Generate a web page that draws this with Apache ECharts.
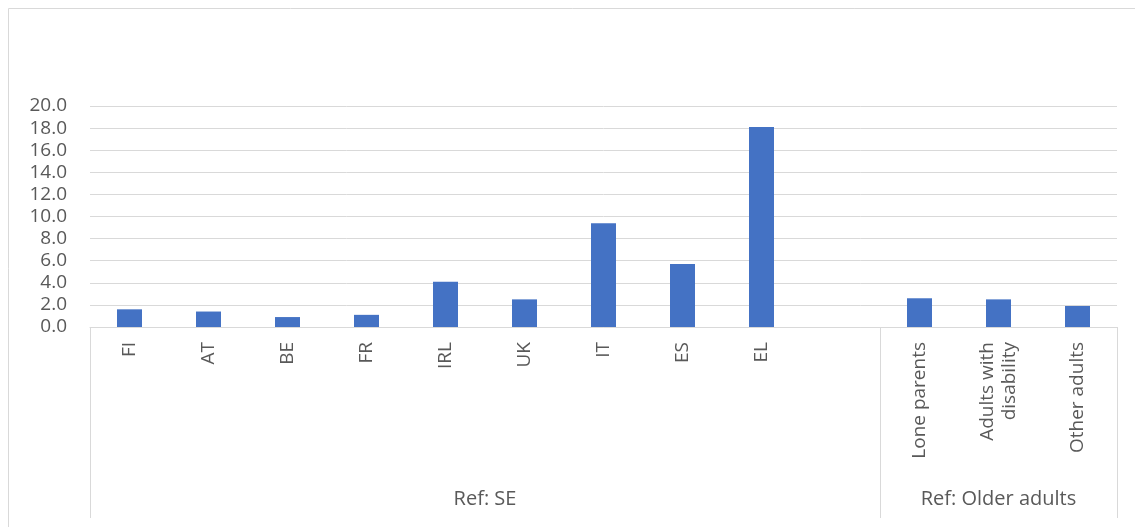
<!DOCTYPE html>
<html>
<head>
<meta charset="utf-8">
<script src="https://cdn.jsdelivr.net/npm/echarts@6/dist/echarts.min.js"></script>
<style>
  html, body {margin:0; padding:0; background:#fff;}
  #main {width:1135px; height:527px;}
</style>
</head>
<body>
<div id="main"></div>
<script>
var categories = ['FI','AT','BE','FR','IRL','UK','IT','ES','EL','','Lone parents','Adults with\ndisability','Other adults'];
var values = [1.6, 1.4, 0.9, 1.1, 4.1, 2.5, 9.4, 5.7, 18.1, null, 2.6, 2.5, 1.9];
var yTicks = [0, 2, 4, 6, 8, 10, 12, 14, 16, 18, 20];
var groups = ['Ref: SE', 'Ref: Older adults'];
var groupSpans = [10, 3];

// group edges and centres, counted in categories
var edges = [0], centres = [];
for (var i = 0; i < groupSpans.length; i++) {
    var start = edges[edges.length - 1];
    edges.push(start + groupSpans[i]);
    centres.push(start + groupSpans[i] / 2);
}

var grey = '#d9d9d9';
var textColor = '#595959';
var font = '"Open Sans", "Liberation Sans", sans-serif';

var myChart = echarts.init(document.getElementById('main'));
myChart.setOption({
    animation: false,
    graphic: [{
        type: 'rect',
        shape: {x: 8.5, y: 8.5, width: 1140, height: 540},
        style: {fill: 'none', stroke: grey, lineWidth: 1},
        silent: true
    }],
    grid: {left: 90, right: 18, top: 106, bottom: 200},
    xAxis: [{
        type: 'category',
        data: categories,
        axisLine: {lineStyle: {color: grey, width: 1}},
        axisTick: {show: false},
        axisLabel: {
            rotate: 90,
            interval: 0,
            margin: 15,
            color: textColor,
            fontFamily: font,
            fontSize: 19,
            lineHeight: 22
        }
    }, {
        type: 'value',
        min: 0,
        max: categories.length,
        position: 'bottom',
        axisLine: {show: false},
        splitLine: {show: false},
        axisTick: {
            show: true,
            customValues: edges,
            length: 191,
            lineStyle: {color: grey, width: 1}
        },
        axisLabel: {
            customValues: centres,
            margin: 162,
            color: textColor,
            fontFamily: font,
            fontSize: 20,
            formatter: function (v) {
                for (var i = 0; i < centres.length; i++) {
                    if (centres[i] == v) return groups[i];
                }
                return '';
            }
        }
    }],
    yAxis: {
        type: 'value',
        min: yTicks[0],
        max: yTicks[yTicks.length - 1],
        interval: yTicks[1] - yTicks[0],
        axisLine: {show: false},
        axisTick: {show: false},
        splitLine: {lineStyle: {color: grey, width: 1}},
        axisLabel: {
            margin: 23,
            color: textColor,
            fontFamily: font,
            fontSize: 19,
            formatter: function (v) { return v.toFixed(1); }
        }
    },
    series: [{
        type: 'bar',
        xAxisIndex: 0,
        data: values,
        barWidth: 25,
        itemStyle: {color: '#4472c4'}
    }]
});
</script>
</body>
</html>
